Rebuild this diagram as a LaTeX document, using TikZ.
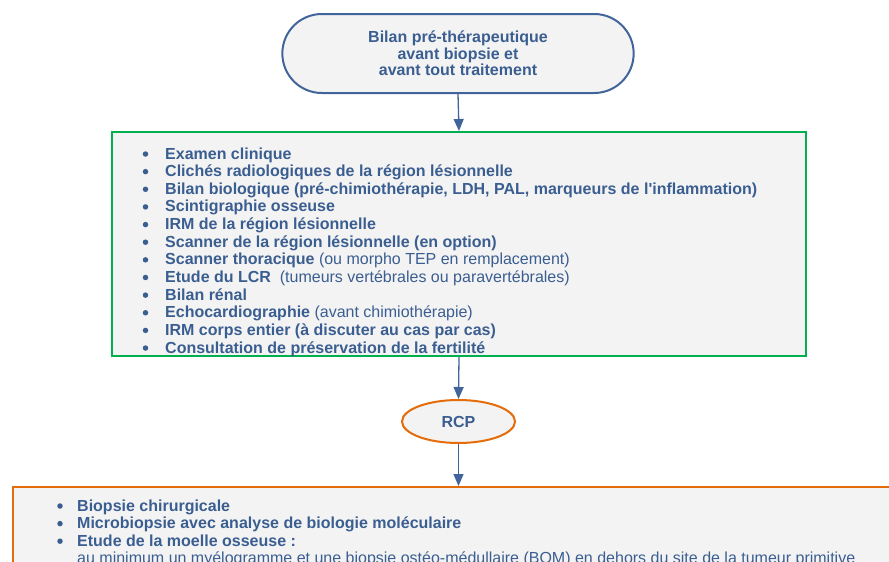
\documentclass[tikz,border=0pt]{standalone}
\usepackage{fontspec}
\setmainfont{Liberation Sans}
\usetikzlibrary{arrows.meta,shapes.geometric,shapes.misc}
\definecolor{txtblue}{HTML}{3B5E91}
\definecolor{linblue}{HTML}{41659A}
\definecolor{boxgreen}{HTML}{00B050}
\definecolor{boxorange}{HTML}{E46C0A}
\definecolor{boxfill}{HTML}{F3F3F3}
\tikzset{
  arr/.style={draw=linblue, line width=1.3pt, -{Triangle[length=12pt,width=10pt]}},
  itemtext/.style={anchor=base west, inner sep=0pt, text=txtblue, font=\fontsize{16}{18}\selectfont},
  bul/.style={circle, fill=txtblue, inner sep=0pt, minimum size=5.5pt},
}
\begin{document}
\begin{tikzpicture}[x=1pt,y=-1pt]
\useasboundingbox (0,0) rectangle (889,562);
\clip (0,0) rectangle (889,562);
% top terminator
\node[rounded rectangle, draw=linblue, line width=2pt, fill=boxfill, minimum width=358pt, minimum height=79pt,
      text=txtblue, font=\bfseries\fontsize{16}{16.5}\selectfont, align=center] (top) at (458,53.5)
  {Bilan pré-thérapeutique\\avant biopsie et\\avant tout traitement};
% green box
\node[draw=boxgreen, line width=2pt, fill=boxfill, minimum width=694pt, minimum height=224pt, anchor=north west, inner sep=0pt] (box1) at (111,131) {};
\foreach \t [count=\i from 0] in {
  {\bfseries Examen clinique},
  {\bfseries Clichés radiologiques de la région lésionnelle},
  {\bfseries Bilan biologique (pré-chimiothérapie, LDH, PAL, marqueurs de l\textquotesingle inflammation)},
  {\bfseries Scintigraphie osseuse},
  {\bfseries IRM de la région lésionnelle},
  {\bfseries Scanner de la région lésionnelle (en option)},
  {{\bfseries Scanner thoracique} (ou morpho TEP en remplacement)},
  {{\bfseries Etude du LCR}\ \ (tumeurs vertébrales ou paravertébrales)},
  {\bfseries Bilan rénal},
  {{\bfseries Echocardiographie} (avant chimiothérapie)},
  {\bfseries IRM corps entier (à discuter au cas par cas)},
  {\bfseries Consultation de préservation de la fertilité}} {
  \node[bul] (b\i) at (145.5,{154+17.64*\i}) {};
  \node[itemtext] (l\i) at (165,{159+17.64*\i}) {\t};
}
% RCP
\node[ellipse, draw=boxorange, line width=2pt, fill=boxfill, minimum width=113pt, minimum height=43pt,
      text=txtblue, font=\bfseries\fontsize{16}{16}\selectfont] (rcp) at (458.5,421.5) {RCP};
% orange box
\node[draw=boxorange, line width=2pt, fill=boxfill, minimum width=900pt, minimum height=150pt, anchor=north west, inner sep=0pt] (box2) at (12,486) {};
\foreach \t [count=\i from 0] in {
  {\bfseries Biopsie chirurgicale},
  {\bfseries Microbiopsie avec analyse de biologie moléculaire},
  {\bfseries Etude de la moelle osseuse :}} {
  \node[bul] (c\i) at (60,{506+17.6*\i}) {};
  \node[itemtext] (m\i) at (77,{511+17.6*\i}) {\t};
}
\node[itemtext] (m3) at (77,{511+17.6*3}) {au minimum un myélogramme et une biopsie ostéo-médullaire (BOM) en dehors du site de la tumeur primitive};
% connectors
\draw[arr] (top.south) -- (box1.north);
\draw[arr] (box1.south) -- (rcp.north);
\draw[arr] (rcp.south) -- (rcp.south |- box2.north);
\end{tikzpicture}
\end{document}
